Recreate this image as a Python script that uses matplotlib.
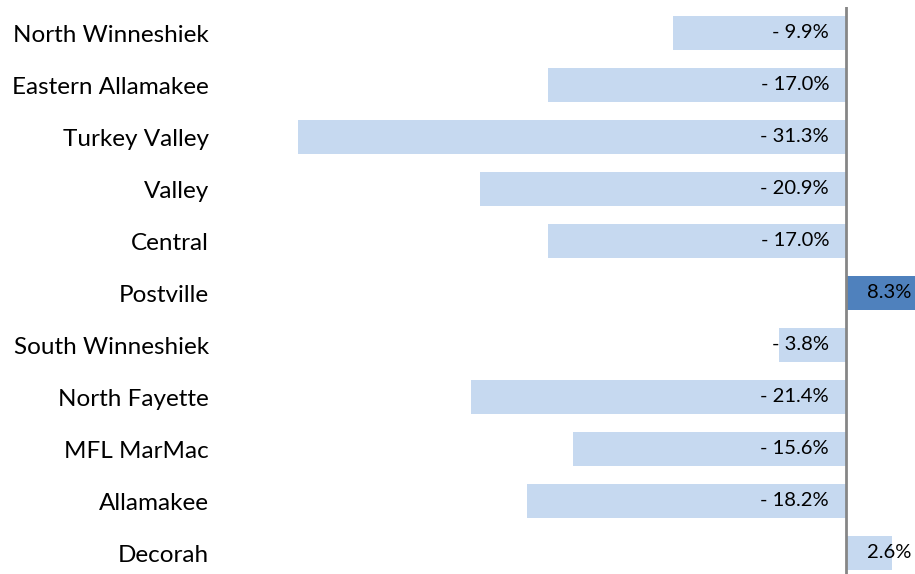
import matplotlib.pyplot as plt

districts = ['North Winneshiek', 'Eastern Allamakee', 'Turkey Valley', 'Valley',
             'Central', 'Postville', 'South Winneshiek', 'North Fayette',
             'MFL MarMac', 'Allamakee', 'Decorah']
change = [-9.9, -17.0, -31.3, -20.9, -17.0, 8.3, -3.8, -21.4, -15.6, -18.2, 2.6]
highlight = 'Postville'

light = '#C6D9F0'
dark = '#4F81BD'

plt.rcParams['font.family'] = ['Lato', 'DejaVu Sans']

W, H = 915, 574
fig = plt.figure(figsize=(W / 100, H / 100), dpi=100)
# axes from x=220 to the right edge, rows 52px tall starting at y=7
ax = fig.add_axes([220 / W, (H - 579) / H, (W - 220) / W, 572 / H])

px = 17.51  # pixels per percent
xmin = -(846 - 220) / px
xmax = (W - 846) / px

y = list(range(len(districts)))
colors = [dark if d == highlight else light for d in districts]
ax.barh(y, change, height=0.67, color=colors, zorder=2)

for yi, v in zip(y, change):
    if v < 0:
        ax.text(-17 / px, yi, f'- {abs(v):.1f}%', ha='right', va='center',
                fontsize=14.5, color='black', zorder=3)
    else:
        ax.text(21 / px, yi, f'{v:.1f}%', ha='left', va='center',
                fontsize=14.5, color='black', zorder=3)

ax.set_xlim(xmin, xmax)
ax.set_ylim(len(districts) - 0.5, -0.5)
ax.set_yticks(y)
ax.set_yticklabels(districts, fontsize=17.5)
ax.tick_params(axis='y', length=0, pad=8)
ax.set_xticks([])
ax.axvline(0, color='#868686', linewidth=2, zorder=4)
for s in ax.spines.values():
    s.set_visible(False)

fig.savefig('out.png', dpi=100)
